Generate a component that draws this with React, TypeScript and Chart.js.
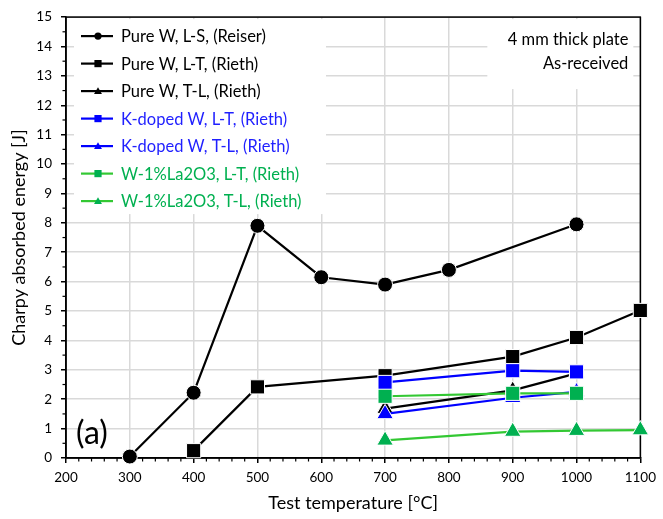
import { useEffect, useRef } from "react";
import { Chart, registerables } from "chart.js";

Chart.register(...registerables);

// Test temperatures (°C) and Charpy absorbed energies (J) per material / orientation
const pureLSTemps = [300, 400, 500, 600, 700, 800, 1000];
const pureLS = [0.05, 2.22, 7.9, 6.15, 5.9, 6.4, 7.95];

const pureLTTemps = [400, 500, 700, 900, 1000, 1100];
const pureLT = [0.25, 2.42, 2.8, 3.45, 4.1, 5.02];

const pureTLTemps = [700, 900, 1000];
const pureTL = [1.68, 2.3, 2.88];

const kLTTemps = [700, 900, 1000];
const kLT = [2.57, 2.97, 2.93];

const kTLTemps = [700, 900, 1000];
const kTL = [1.5, 2.05, 2.25];

const laLTTemps = [700, 900, 1000];
const laLT = [2.1, 2.2, 2.2];

const laTLTemps = [700, 900, 1000, 1100];
const laTL = [0.6, 0.9, 0.93, 0.95];

const seriesLabels = [
  "Pure W, L-S, (Reiser)",
  "Pure W, L-T, (Rieth)",
  "Pure W, T-L, (Rieth)",
  "K-doped W, L-T, (Rieth)",
  "K-doped W, T-L, (Rieth)",
  "W-1%La2O3, L-T, (Rieth)",
  "W-1%La2O3, T-L, (Rieth)",
];

const xMin = 200;
const xMax = 1100;
const yMin = 0;
const yMax = 15;

const FONT = "Lato, 'Open Sans', sans-serif";
const BLACK = "#000000";
const BLUE = "#0000ff";
const GREEN_LINE = "#33c833";
const GREEN_MARK = "#00b050";
const BLUE_TEXT = "#1f1fff";
const GREEN_TEXT = "#00b050";

type Shape = "circle" | "rect" | "triangle";

const styles: { line: string; mark: string; text: string; shape: Shape }[] = [
  { line: BLACK, mark: BLACK, text: BLACK, shape: "circle" },
  { line: BLACK, mark: BLACK, text: BLACK, shape: "rect" },
  { line: BLACK, mark: BLACK, text: BLACK, shape: "triangle" },
  { line: BLUE, mark: BLUE, text: BLUE_TEXT, shape: "rect" },
  { line: BLUE, mark: BLUE, text: BLUE_TEXT, shape: "triangle" },
  { line: GREEN_LINE, mark: GREEN_MARK, text: GREEN_TEXT, shape: "rect" },
  { line: GREEN_LINE, mark: GREEN_MARK, text: GREEN_TEXT, shape: "triangle" },
];

const pointRadius: Record<Shape, number> = { circle: 7.5, rect: 10, triangle: 9.5 };

function pairs(xs: number[], ys: number[]) {
  return xs.map((x, i) => ({ x, y: ys[i] }));
}

function drawMarker(ctx: CanvasRenderingContext2D, shape: Shape, x: number, y: number, s: number) {
  ctx.beginPath();
  if (shape === "circle") {
    ctx.arc(x, y, s, 0, Math.PI * 2);
  } else if (shape === "rect") {
    ctx.rect(x - s, y - s, 2 * s, 2 * s);
  } else {
    ctx.moveTo(x, y - s * 1.1);
    ctx.lineTo(x + s * 1.1, y + s * 0.8);
    ctx.lineTo(x - s * 1.1, y + s * 0.8);
    ctx.closePath();
  }
  ctx.fill();
}

// Frame, minor ticks, legend box and annotations
const decorations = {
  id: "decorations",
  beforeDatasetsDraw(chart: any) {
    const { ctx, chartArea } = chart;
    const xs = chart.scales.x;
    const ys = chart.scales.y;
    const { left, right, top, bottom } = chartArea;
    ctx.save();

    // minor ticks
    ctx.strokeStyle = BLACK;
    ctx.lineWidth = 1.2;
    for (let v = xMin + 20; v < xMax; v += 20) {
      if (v % 100 === 0) continue;
      const px = xs.getPixelForValue(v);
      ctx.beginPath();
      ctx.moveTo(px, bottom);
      ctx.lineTo(px, bottom + 3.5);
      ctx.stroke();
    }
    for (let v = yMin + 0.5; v < yMax; v += 1) {
      const py = ys.getPixelForValue(v);
      ctx.beginPath();
      ctx.moveTo(left - 3.5, py);
      ctx.lineTo(left, py);
      ctx.stroke();
    }

    // legend box
    ctx.fillStyle = "#ffffff";
    ctx.fillRect(left + 8, top + 2, 252, 195);
    const rowTop = top + 19;
    const rowGap = 27.5;
    ctx.font = `16.5px ${FONT}`;
    ctx.textBaseline = "middle";
    ctx.textAlign = "left";
    seriesLabels.forEach((label, i) => {
      const st = styles[i];
      const y = rowTop + i * rowGap;
      ctx.strokeStyle = st.line;
      ctx.lineWidth = 2.2;
      ctx.beginPath();
      ctx.moveTo(left + 15, y);
      ctx.lineTo(left + 47, y);
      ctx.stroke();
      ctx.fillStyle = st.mark;
      drawMarker(ctx, st.shape, left + 32, y, 3.6);
      ctx.fillStyle = st.text;
      ctx.fillText(label, left + 55, y + 1);
    });

    // condition note at top right
    ctx.fillStyle = "#ffffff";
    ctx.fillRect(right - 153, top + 2, 146, 70);
    ctx.fillStyle = BLACK;
    ctx.textAlign = "right";
    ctx.font = `16.5px ${FONT}`;
    ctx.fillText("4 mm thick plate", right - 12, top + 23);
    ctx.fillText("As-received", right - 12, top + 47);

    // panel label
    ctx.textAlign = "left";
    ctx.font = `32px ${FONT}`;
    ctx.fillText("(a)", left + 10, bottom - 24);

    // frame
    ctx.strokeStyle = BLACK;
    ctx.lineWidth = 1.5;
    ctx.strokeRect(left, top, right - left, bottom - top);
    ctx.restore();
  },
};

export default function App() {
  const canvasRef = useRef<HTMLCanvasElement | null>(null);

  useEffect(() => {
    const canvas = canvasRef.current;
    if (!canvas) return;
    const dataPairs = [
      pairs(pureLSTemps, pureLS),
      pairs(pureLTTemps, pureLT),
      pairs(pureTLTemps, pureTL),
      pairs(kLTTemps, kLT),
      pairs(kTLTemps, kTL),
      pairs(laLTTemps, laLT),
      pairs(laTLTemps, laTL),
    ];
    const datasets = dataPairs.map((d, i) => ({
      label: seriesLabels[i],
      data: d,
      borderColor: styles[i].line,
      backgroundColor: styles[i].mark,
      borderWidth: 2.2,
      pointStyle: styles[i].shape,
      pointRadius: pointRadius[styles[i].shape],
      pointBackgroundColor: styles[i].mark,
      pointBorderColor: "#ffffff",
      pointBorderWidth: 1,
      tension: 0,
      clip: false as any,
      order: seriesLabels.length - i,
    }));

    const chart = new Chart(canvas, {
      type: "line",
      data: { datasets },
      options: {
        responsive: false,
        animation: false,
        layout: { padding: { top: 17, right: 18, left: 0, bottom: 0 } },
        plugins: {
          legend: { display: false },
          tooltip: { enabled: false },
        },
        scales: {
          x: {
            type: "linear",
            min: xMin,
            max: xMax,
            ticks: {
              stepSize: 100,
              color: BLACK,
              font: { family: FONT, size: 13.5 },
              padding: 7,
              callback: (v: any) => String(v),
            },
            grid: { color: "#d9d9d9", lineWidth: 1.5, tickColor: BLACK, tickLength: 5, tickWidth: 1.5 } as any,
            border: { color: BLACK, width: 1.5 },
            title: {
              display: true,
              text: "Test temperature [°C]",
              color: BLACK,
              font: { family: FONT, size: 18 },
              padding: { top: 4, bottom: 5 },
            },
            afterFit: (scale: any) => {
              scale.height = 61;
            },
          },
          y: {
            type: "linear",
            min: yMin,
            max: yMax,
            ticks: {
              stepSize: 1,
              color: BLACK,
              font: { family: FONT, size: 13.5 },
              padding: 9,
              callback: (v: any) => String(v),
            },
            grid: { color: "#d9d9d9", lineWidth: 1.5, tickColor: BLACK, tickLength: 5, tickWidth: 1.5 } as any,
            border: { color: BLACK, width: 1.5 },
            title: {
              display: true,
              text: "Charpy absorbed energy [J]",
              color: BLACK,
              font: { family: FONT, size: 18 },
              padding: { top: 8, bottom: 2 },
            },
            afterFit: (scale: any) => {
              scale.width = 66;
            },
          },
        },
      },
      plugins: [decorations],
    });
    return () => chart.destroy();
  }, []);

  return (
    <div style={{ position: "fixed", left: 0, top: 0, width: 663, height: 519, background: "#ffffff" }}>
      <canvas ref={canvasRef} width={663} height={519} style={{ display: "block" }} />
    </div>
  );
}
